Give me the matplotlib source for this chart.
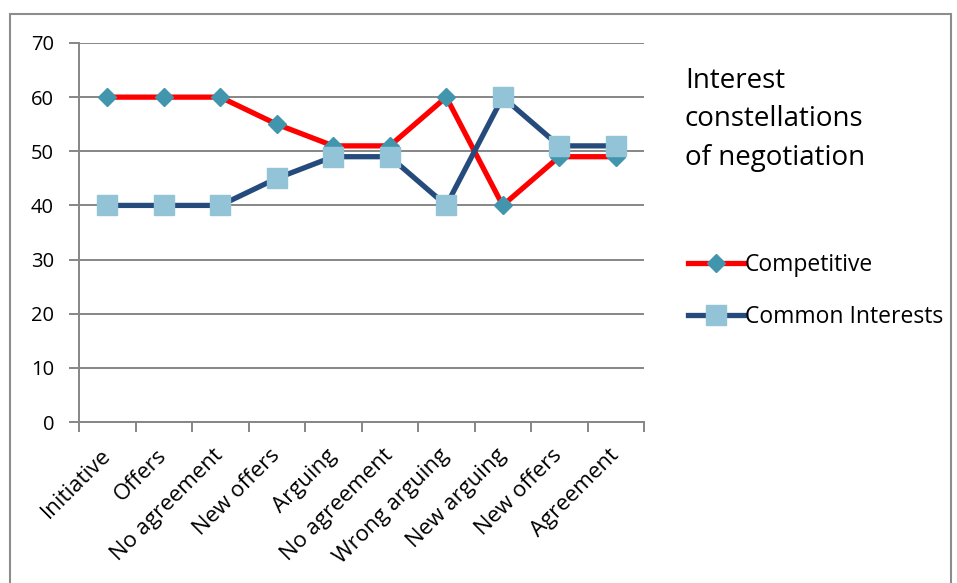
import matplotlib.pyplot as plt
import numpy as np
from matplotlib.patches import Rectangle

stages = ['Initiative', 'Offers', 'No agreement', 'New offers', 'Arguing',
          'No agreement', 'Wrong arguing', 'New arguing', 'New offers', 'Agreement']
competitive = [60, 60, 60, 55, 51, 51, 60, 40, 49, 49]
common = [40, 40, 40, 45, 49, 49, 40, 60, 51, 51]

plt.rcParams['font.family'] = ['Open Sans', 'DejaVu Sans']

fig = plt.figure(figsize=(9.57, 5.83), dpi=100)
ax = fig.add_axes([79/957, 1 - 422/583, 565/957, 379/583])

x = np.arange(len(stages))
grid_c = '#868686'

ax.plot(x, competitive, color='#ff0000', lw=3.8, marker='D', ms=9.5,
        mfc='#4196ae', mec='#4196ae', label='Competitive', zorder=3)
ax.plot(x, common, color='#254b7c', lw=3.8, marker='s', ms=14,
        mfc='#93c3d6', mec='#93c3d6', label='Common Interests', zorder=3)

ax.set_xlim(-0.5, 9.5)
ax.set_ylim(0, 70)
ax.set_yticks(range(0, 71, 10))
ax.yaxis.grid(True, color=grid_c, lw=1.4)
ax.set_axisbelow(True)

for s in ['top', 'right']:
    ax.spines[s].set_visible(False)
ax.spines['left'].set_color(grid_c)
ax.spines['bottom'].set_color(grid_c)
ax.spines['left'].set_linewidth(1.4)
ax.spines['bottom'].set_linewidth(1.4)

ax.set_xticks(x)
ax.set_xticklabels(stages, rotation=45, ha='right', va='center',
                   rotation_mode='anchor', fontsize=16)
ax.tick_params(axis='x', which='major', length=0, pad=22)
ax.set_xticks(np.arange(-0.5, 10, 1), minor=True)
ax.tick_params(axis='x', which='minor', length=7, color=grid_c, width=1.4)
ax.tick_params(axis='y', length=7, color=grid_c, width=1.4, labelsize=14.5, pad=11)

fig.text(685/957, 1 - 119/583, 'Interest\nconstellations\nof negotiation',
         fontsize=20, va='center', ha='left', linespacing=1.5)

leg = ax.legend(loc='center left', bbox_to_anchor=(667/957, 1 - 291/583),
                bbox_transform=fig.transFigure, frameon=False, fontsize=16.5,
                handlelength=2.5, handletextpad=0.0, labelspacing=1.2)

fig.add_artist(Rectangle((10/957, -0.05), 941/957, 1.05 - 14/583,
                         transform=fig.transFigure, fill=False,
                         edgecolor='#8c8c8c', lw=1.5))

fig.savefig('out.png', dpi=100)
